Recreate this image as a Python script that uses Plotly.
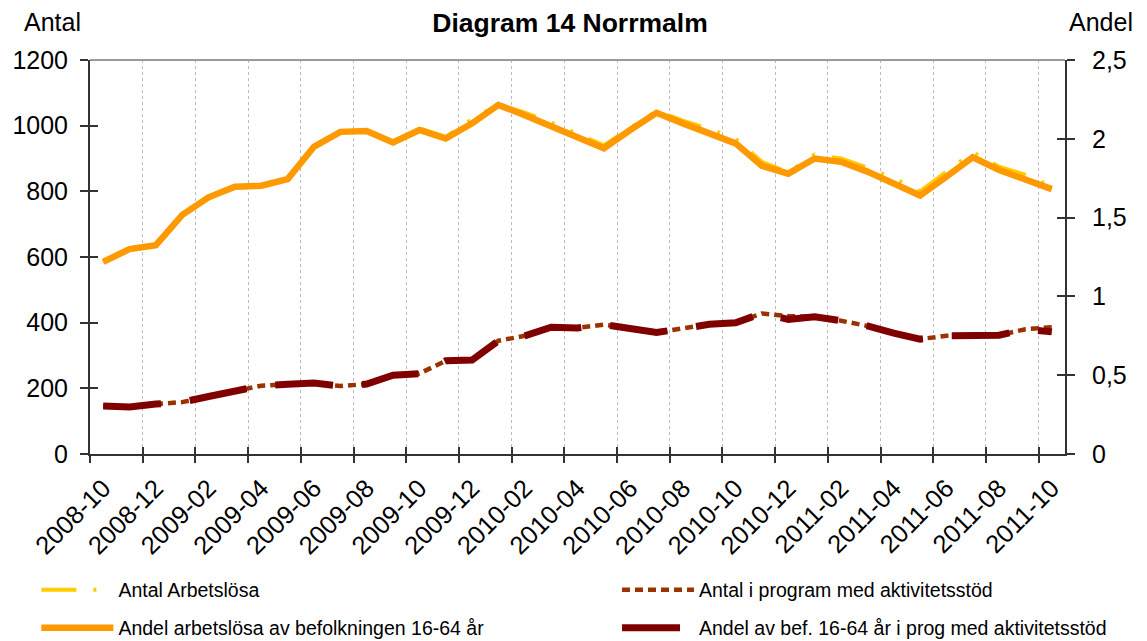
import plotly.graph_objects as go

months = ["2008-10", "2008-11", "2008-12", "2009-01", "2009-02", "2009-03", "2009-04",
          "2009-05", "2009-06", "2009-07", "2009-08", "2009-09", "2009-10", "2009-11",
          "2009-12", "2010-01", "2010-02", "2010-03", "2010-04", "2010-05", "2010-06",
          "2010-07", "2010-08", "2010-09", "2010-10", "2010-11", "2010-12", "2011-01",
          "2011-02", "2011-03", "2011-04", "2011-05", "2011-06", "2011-07", "2011-08",
          "2011-09", "2011-10"]

antal_arbetslosa = [585, 624, 636, 728, 782, 814, 817, 837, 936, 981, 984, 952, 992, 966,
                    1020, 1065, 1040, 1010, 975, 940, 993, 1045, 1015, 990, 960, 890, 858,
                    912, 900, 872, 840, 800, 860, 920, 875, 850, 815]

antal_program = [146, 143, 152, 158, 175, 190, 208, 212, 216, 207, 213, 240, 245, 284,
                 286, 345, 360, 386, 384, 394, 384, 370, 382, 395, 400, 428, 420, 418,
                 406, 390, 368, 350, 360, 360, 362, 380, 386]

andel_arbetslosa = [1.219, 1.300, 1.325, 1.517, 1.629, 1.696, 1.702, 1.744, 1.950, 2.044,
                    2.050, 1.977, 2.056, 2.002, 2.098, 2.215, 2.150, 2.081, 2.002, 1.940,
                    2.056, 2.165, 2.098, 2.035, 1.971, 1.829, 1.779, 1.875, 1.854, 1.792,
                    1.721, 1.640, 1.760, 1.883, 1.802, 1.744, 1.681]

andel_program = [0.304, 0.298, 0.317, 0.329, 0.365, 0.396, 0.433, 0.442, 0.450, 0.431,
                 0.444, 0.500, 0.510, 0.592, 0.596, 0.719, 0.750, 0.804, 0.800, 0.821,
                 0.800, 0.771, 0.796, 0.823, 0.833, 0.892, 0.854, 0.871, 0.846, 0.813,
                 0.767, 0.729, 0.750, 0.750, 0.754, 0.792, 0.775]

left_ticks = [0, 200, 400, 600, 800, 1000, 1200]
right_ticks = [0, 0.5, 1, 1.5, 2, 2.5]
right_ticktext = ["0", "0,5", "1", "1,5", "2", "2,5"]

FONT = "Liberation Sans, Arial, sans-serif"
idx = list(range(len(months)))
label_pos = idx[::2]
label_text = months[::2]
bounds = [i - 0.5 for i in idx[::2]]
xr = [-0.5, len(months) - 0.5]

# page body has an 8px margin: figure drawn from (8, 8)
W, H = 1139, 633
ML, MT, PW, PH = 82, 52, 975, 394

fig = go.Figure()
fig.add_trace(go.Scatter(x=idx, y=antal_arbetslosa, name="Antal Arbetslösa", mode="lines",
                         line=dict(color="#FFCC00", width=4, dash="35px,17px,3px,17px,3px,17px"),
                         legend="legend", yaxis="y"))
fig.add_trace(go.Scatter(x=idx, y=antal_program, name="Antal i program med aktivitetsstöd",
                         mode="lines", line=dict(color="#993300", width=4.5, dash="8px,5px"),
                         legend="legend2", yaxis="y"))
fig.add_trace(go.Scatter(x=idx, y=andel_arbetslosa, name="Andel arbetslösa av befolkningen 16-64 år",
                         mode="lines", line=dict(color="#FF9900", width=6.5),
                         legend="legend3", yaxis="y2"))
fig.add_trace(go.Scatter(x=idx, y=andel_program, name="Andel av bef. 16-64 år i prog med aktivitetsstöd",
                         mode="lines", line=dict(color="#800000", width=7, dash="58px,29px"),
                         legend="legend4", yaxis="y2"))

# empty helper traces so the tick/grid overlay axes exist
fig.add_trace(go.Scatter(x=[None], y=[None], xaxis="x2", yaxis="y3", showlegend=False, hoverinfo="skip"))
fig.add_trace(go.Scatter(x=[None], y=[None], xaxis="x3", yaxis="y4", showlegend=False, hoverinfo="skip"))

axcol = "#333333"
leg_common = dict(orientation="h", xanchor="left", yanchor="middle", itemwidth=72,
                  font=dict(size=19.5, family=FONT), bgcolor="rgba(0,0,0,0)")
col1 = -0.055
col2 = (622 - 5 - 90) / PW
row1 = -(590 - 454) / PH
row2 = -(628 - 454) / PH

fig.update_layout(
    width=W, height=H,
    margin=dict(l=ML, r=W - ML - PW, t=MT, b=H - MT - PH, autoexpand=False),
    paper_bgcolor="white", plot_bgcolor="white",
    font=dict(family=FONT, color="black"),
    title=dict(text="<b>Diagram 14 Norrmalm</b>", x=0.4923, xref="paper", xanchor="center",
               y=1 - 15 / H, yanchor="middle", yref="container",
               font=dict(size=26.5, family=FONT, color="black")),
    xaxis=dict(range=xr, tickmode="array", tickvals=label_pos, ticktext=label_text,
               ticks="", tickangle=-45, tickfont=dict(size=25.5), ticklabelstandoff=7,
               showgrid=False, automargin=False,
               zeroline=False, showline=True, linecolor=axcol, linewidth=2),
    xaxis2=dict(range=xr, overlaying="x", anchor="y", side="bottom", tickmode="array",
                tickvals=bounds, ticks="outside", ticklen=8, tickcolor=axcol, tickwidth=1.5,
                showticklabels=False, showgrid=True, gridcolor="#BBBBBB", griddash="dot",
                gridwidth=1, zeroline=False, showline=False, automargin=False),
    xaxis3=dict(range=xr, overlaying="x", anchor="y", side="bottom", tickmode="array",
                tickvals=bounds, ticks="inside", ticklen=7, tickcolor=axcol, tickwidth=1.5,
                showticklabels=False, showgrid=False, zeroline=False, showline=False,
                automargin=False),
    yaxis=dict(range=[0, 1200], tickmode="array", tickvals=left_ticks, ticks="outside",
               ticklen=8, tickcolor=axcol, tickwidth=1.5, tickfont=dict(size=25),
               ticklabelstandoff=7, showgrid=False, zeroline=False, showline=True,
               linecolor=axcol, linewidth=2, automargin=False),
    yaxis2=dict(range=[0, 2.5], overlaying="y", side="right", anchor="x", tickmode="array",
                tickvals=right_ticks, ticktext=right_ticktext, ticks="outside", ticklen=8,
                tickcolor=axcol, tickwidth=1.5, tickfont=dict(size=25), ticklabelstandoff=12,
                showgrid=False, zeroline=False, showline=True, linecolor=axcol, linewidth=2,
                automargin=False),
    yaxis3=dict(range=[0, 1200], overlaying="y", side="left", anchor="x", tickmode="array",
                tickvals=left_ticks, ticks="inside", ticklen=8, tickcolor=axcol, tickwidth=1.5,
                showticklabels=False, showgrid=False, zeroline=False, showline=False,
                automargin=False),
    yaxis4=dict(range=[0, 2.5], overlaying="y", side="right", anchor="x", tickmode="array",
                tickvals=right_ticks, ticks="inside", ticklen=8, tickcolor=axcol, tickwidth=1.5,
                showticklabels=False, showgrid=False, zeroline=False, showline=False,
                automargin=False),
    legend=dict(x=col1, y=row1, **leg_common),
    legend2=dict(x=col2, y=row1, **leg_common),
    legend3=dict(x=col1, y=row2, **leg_common),
    legend4=dict(x=col2, y=row2, **leg_common),
    shapes=[dict(type="line", xref="paper", yref="paper", x0=0, x1=1, y0=1, y1=1,
                 line=dict(color="#999999", width=2))],
    annotations=[
        dict(text="Antal", xref="paper", yref="paper", x=-0.038, y=1 + 38 / PH,
             xanchor="center", yanchor="middle", showarrow=False, font=dict(size=25, family=FONT)),
        dict(text="Andel", xref="paper", yref="paper", x=1.037, y=1 + 38 / PH,
             xanchor="center", yanchor="middle", showarrow=False, font=dict(size=25, family=FONT)),
    ],
)

fig.write_html("out.html")
